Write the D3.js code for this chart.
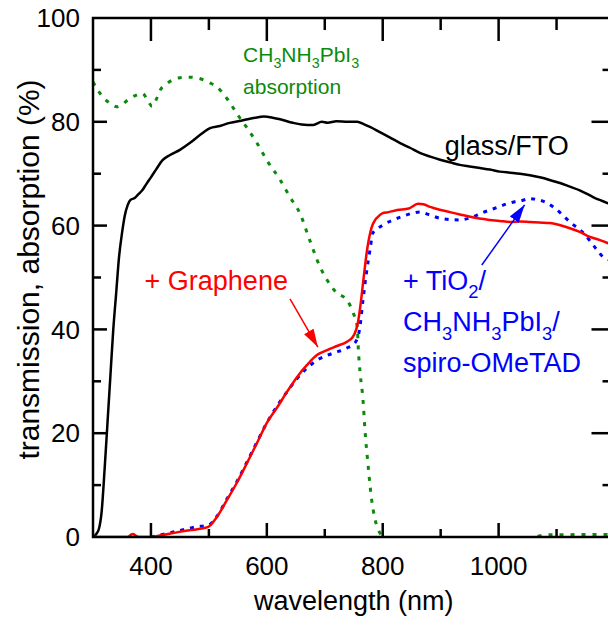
<!DOCTYPE html>
<html>
<head>
<meta charset="utf-8">
<script src="https://cdn.jsdelivr.net/npm/d3@7"></script>
<style>
    body { margin: 0; background: #fff; }
    svg { display: block; font-family: "Liberation Sans", Arial, sans-serif; }
</style>
</head>
<body>
<svg id="chart" width="608" height="620"></svg>
<script>
// wavelength (nm), percent
const glassFto = [
    [300, 0], [305, 0.5], [310, 1.5], [315, 5], [320, 13], [325, 22], [330, 31], [335, 40],
    [340, 47], [345, 54], [350, 58.5], [355, 62], [360, 64], [365, 65], [372, 65.3], [378, 66],
    [385, 66.8], [392, 68], [400, 69.3], [410, 71], [420, 72.6], [433, 73.6], [450, 74.6],
    [467, 75.9], [485, 77.5], [502, 78.8], [519, 79.2], [536, 79.8], [559, 80.3], [580, 80.8],
    [595, 81], [610, 80.8], [623, 80.5], [645, 79.8], [660, 79.5], [680, 79.4], [695, 80],
    [705, 79.8], [720, 80.1], [740, 80], [756, 80], [768, 79.5], [778, 79], [795, 78], [812, 77],
    [830, 75.9], [847, 75], [864, 74], [882, 73.3], [899, 72.7], [916, 72.2], [933, 71.7],
    [950, 71.4], [968, 71.1], [985, 70.8], [1002, 70.4], [1020, 70.2], [1037, 70], [1054, 69.7],
    [1071, 69.3], [1088, 68.8], [1106, 68.2], [1123, 67.5], [1140, 66.8], [1163, 65.5],
    [1189, 64.3], [1200, 63.8]
];

// slightly negative between 800 and 1060 nm, hidden under the axis
const perovskiteAbs = [
    [300, 87.7], [310, 85.8], [317, 84.8], [330, 83.5], [341, 82.9], [350, 83.3], [360, 84.2],
    [372, 85], [385, 85.5], [395, 84], [402, 83], [410, 84.5], [416, 86.1], [427, 87.3],
    [438, 88.1], [450, 88.5], [464, 88.6], [477, 88.5], [490, 88.1], [502, 87.5], [514, 86.7],
    [533, 84.2], [550, 81.3], [566, 78.8], [583, 75.9], [600, 72.6], [623, 68.8], [640, 65.5],
    [657, 62.4], [674, 57.2], [692, 52], [704, 49.5], [721, 47], [738, 45.7], [749, 43.2],
    [756, 40.5], [758, 36], [761, 31.6], [766, 26.4], [769, 21.2], [775, 13.5], [781, 7.1],
    [787, 3.3], [795, 0.8], [800, 0], [810, -0.8], [1050, -0.8], [1070, 0.2], [1080, 0.4],
    [1200, 0.5]
];

const withGraphene = [
    [300, 0], [360, 0], [365, 0.4], [369, 0.6], [374, 0.2], [380, 0], [400, 0], [420, 0.4],
    [440, 0.8], [460, 1.2], [480, 1.5], [498, 1.9], [514, 3.9], [531, 7.1], [548, 10.4],
    [566, 14.3], [583, 18.1], [600, 22], [618, 25], [635, 28], [652, 30.8], [669, 33.1],
    [687, 35.1], [704, 36], [721, 36.8], [738, 37.6], [748, 38.5], [752, 39.3], [757, 41.2],
    [762, 45], [766, 48.9], [773, 55.3], [781, 59.7], [787, 61.1], [790, 61.5], [800, 62.4],
    [810, 62.6], [825, 63], [845, 63.3], [861, 64.2], [870, 64.1], [882, 63.6], [900, 63],
    [916, 62.6], [935, 62.1], [951, 61.7], [970, 61.3], [985, 61.1], [1002, 60.9], [1020, 60.7],
    [1037, 60.8], [1054, 60.7], [1070, 60.6], [1089, 60.5], [1105, 60.1], [1123, 59.5],
    [1140, 58.8], [1158, 57.8], [1175, 57.2], [1189, 56.6], [1200, 56]
];

const withTiO2Stack = [
    [400, 0], [420, 0.5], [440, 1], [460, 1.5], [480, 2], [498, 2.2], [514, 4], [531, 7.3],
    [548, 10.6], [566, 14.5], [583, 18.3], [600, 22], [618, 25.3], [635, 28], [652, 30.5],
    [669, 32.5], [687, 34.1], [700, 34.8], [714, 35.4], [725, 35.8], [738, 36.4], [752, 37.4],
    [760, 40], [766, 45.7], [772, 51], [778, 55.3], [783, 58.6], [792, 59.5], [800, 60.1],
    [818, 61.1], [835, 61.8], [852, 62.4], [864, 62.6], [882, 62], [904, 61.3], [933, 61.1],
    [956, 61.7], [970, 62.4], [985, 63], [1000, 63.6], [1014, 64.2], [1028, 64.6], [1042, 64.9],
    [1052, 65.2], [1063, 65.1], [1083, 64.4], [1101, 63], [1123, 60.7], [1146, 58.6],
    [1170, 55.3], [1180, 54], [1200, 53.2]
];

const xMajor = [400, 600, 800, 1000, 1200];
const xMinor = [500, 700, 900, 1100];
const xLabels = [400, 600, 800, 1000];
const yMajor = [0, 20, 40, 60, 80, 100];
const yMinor = [10, 30, 50, 70, 90];

const svg = d3.select('#chart');

const plot = { left: 93, right: 614.5, top: 18, bottom: 537 };

const x = d3.scaleLinear().domain([300, 1200]).range([plot.left, plot.right]);
const y = d3.scaleLinear().domain([0, 100]).range([plot.bottom, plot.top]);

const line = d3.line()
    .x(d => x(d[0]))
    .y(d => y(d[1]))
    .curve(d3.curveMonotoneX);

const defs = svg.append('defs');

defs.append('clipPath').attr('id', 'plotClip')
    .append('rect')
    .attr('x', plot.left).attr('y', plot.top)
    .attr('width', plot.right - plot.left).attr('height', plot.bottom - plot.top);

// arrow heads
[['headRed', '#ff0000'], ['headBlue', '#0000ff']].forEach(([id, col]) => {
    defs.append('marker')
        .attr('id', id)
        .attr('markerUnits', 'userSpaceOnUse')
        .attr('markerWidth', 18)
        .attr('markerHeight', 11)
        .attr('refX', 18)
        .attr('refY', 5.5)
        .attr('orient', 'auto')
        .append('path')
        .attr('d', 'M0,0 L18,5.5 L0,11 Z')
        .attr('fill', col);
});

// curves
const curves = svg.append('g').attr('clip-path', 'url(#plotClip)');

curves.append('path').datum(perovskiteAbs)
    .attr('d', line).attr('fill', 'none')
    .attr('stroke', '#0b8a0b').attr('stroke-width', 3)
    .attr('stroke-dasharray', '4,7');

curves.append('path').datum(glassFto)
    .attr('d', line).attr('fill', 'none')
    .attr('stroke', '#000').attr('stroke-width', 2.5);

curves.append('path').datum(withTiO2Stack)
    .attr('d', line).attr('fill', 'none')
    .attr('stroke', '#0000ff').attr('stroke-width', 3)
    .attr('stroke-dasharray', '4,6');

curves.append('path').datum(withGraphene)
    .attr('d', line).attr('fill', 'none')
    .attr('stroke', '#ff0000').attr('stroke-width', 2.5);

// frame
svg.append('rect')
    .attr('x', plot.left).attr('y', plot.top)
    .attr('width', plot.right - plot.left).attr('height', plot.bottom - plot.top)
    .attr('fill', 'none').attr('stroke', '#000').attr('stroke-width', 2.5);

// ticks, inward; top and right are longer
const ticks = svg.append('g').attr('stroke', '#000').attr('stroke-width', 2.5);
const tickSet = (vals, len, lenFar) => vals.forEach(v => {
    ticks.append('line').attr('x1', x(v)).attr('x2', x(v)).attr('y1', plot.bottom).attr('y2', plot.bottom - len);
    ticks.append('line').attr('x1', x(v)).attr('x2', x(v)).attr('y1', plot.top).attr('y2', plot.top + lenFar);
});
const tickSetY = (vals, len, lenFar) => vals.forEach(v => {
    ticks.append('line').attr('y1', y(v)).attr('y2', y(v)).attr('x1', plot.left).attr('x2', plot.left + len);
    ticks.append('line').attr('y1', y(v)).attr('y2', y(v)).attr('x1', plot.right).attr('x2', plot.right - lenFar);
});
tickSet(xMajor, 14, 23);
tickSet(xMinor, 8, 12);
tickSetY(yMajor.slice(1, -1), 14, 23);
tickSetY(yMinor, 8, 12);

// tick labels
svg.append('g').selectAll('text').data(xLabels).join('text')
    .attr('x', d => x(d)).attr('y', 575)
    .attr('text-anchor', 'middle').attr('font-size', 26)
    .text(d => d);

svg.append('g').selectAll('text').data(yMajor).join('text')
    .attr('x', 80).attr('y', d => y(d)).attr('dy', '0.35em')
    .attr('text-anchor', 'end').attr('font-size', 26)
    .text(d => d);

// axis titles
svg.append('text')
    .attr('x', (plot.left + plot.right) / 2).attr('y', 610)
    .attr('text-anchor', 'middle').attr('font-size', 27)
    .text('wavelength (nm)');

svg.append('text')
    .attr('transform', `translate(39, ${ (plot.top + plot.bottom) / 2 - 8 }) rotate(-90)`)
    .attr('text-anchor', 'middle').attr('font-size', 30)
    .text('transmission, absorption (%)');

// text with subscripts: parts = [[text, isSub], ...]
function chemText(px, py, parts, size, color) {
    const t = svg.append('text').attr('x', px).attr('y', py)
        .attr('font-size', size).attr('fill', color);
    const shift = size * 0.3;
    let down = false;
    parts.forEach(([s, sub]) => {
        const span = t.append('tspan').text(s);
        if (sub && !down) { span.attr('dy', shift).attr('font-size', size * 0.68); down = true; }
        else if (sub) span.attr('font-size', size * 0.68);
        else if (down) { span.attr('dy', -shift); down = false; }
    });
    return t;
}

// annotations (positions in data units)
chemText(x(559), y(91.5), [['CH'], ['3', 1], ['NH'], ['3', 1], ['PbI'], ['3', 1]], 21, '#0b8a0b');
chemText(x(559), y(85.4), [['absorption']], 21, '#0b8a0b');

chemText(x(907), y(73.6), [['glass/FTO']], 27, '#000');

chemText(x(389), y(47.6), [['+ Graphene']], 27, '#ff0000');
svg.append('line')
    .attr('x1', x(640)).attr('y1', y(45.9))
    .attr('x2', x(688)).attr('y2', y(36.6))
    .attr('stroke', '#ff0000').attr('stroke-width', 1.5)
    .attr('marker-end', 'url(#headRed)');

chemText(x(835), y(47.6), [['+ TiO'], ['2', 1], ['/']], 27, '#0000ff');
chemText(x(835), y(39.6), [['CH'], ['3', 1], ['NH'], ['3', 1], ['PbI'], ['3', 1], ['/']], 27, '#0000ff');
chemText(x(835), y(31.7), [['spiro-OMeTAD']], 27, '#0000ff');
svg.append('line')
    .attr('x1', x(971)).attr('y1', y(52.4))
    .attr('x2', x(1045)).attr('y2', y(64))
    .attr('stroke', '#0000ff').attr('stroke-width', 1.5)
    .attr('marker-end', 'url(#headBlue)');
</script>
</body>
</html>
